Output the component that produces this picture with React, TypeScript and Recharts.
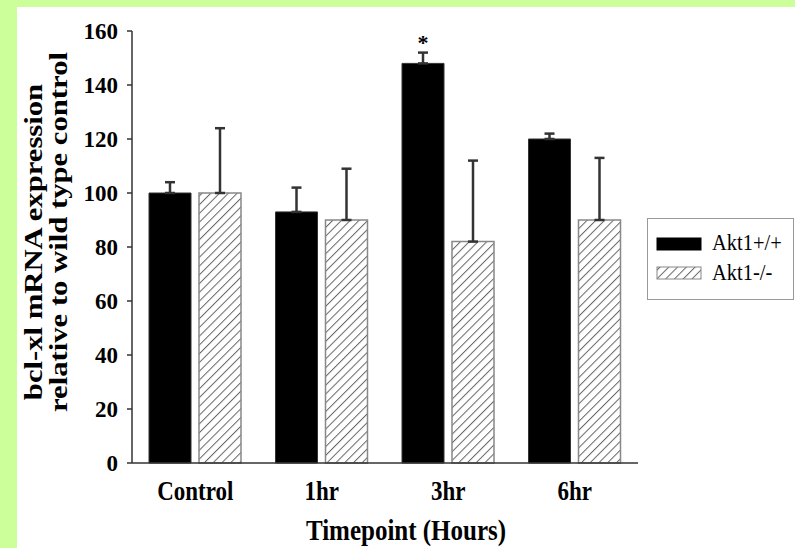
import React from "react";
import { BarChart, Bar, XAxis, YAxis, ErrorBar, LabelList, Legend } from "recharts";

const timepoints = ["Control", "1hr", "3hr", "6hr"];
const wildType = [100, 93, 148, 120];
const wildTypeErr = [4, 9, 4, 2];
const knockout = [100, 90, 82, 90];
const knockoutErr = [24, 19, 30, 23];
const significance = ["", "", "*", ""];
const yTicks = [0, 20, 40, 60, 80, 100, 120, 140, 160];

// errors only go upward: [below, above]
const data = timepoints.map((t, i) => ({
  name: t,
  wt: wildType[i],
  wtErr: [0, wildTypeErr[i]],
  ko: knockout[i],
  koErr: [0, knockoutErr[i]],
  sig: significance[i],
}));

const SERIF = '"Liberation Serif", "Times New Roman", serif';
const AXIS = "#333";

const HatchPattern = ({ id }: { id: string }) => (
  <pattern id={id} patternUnits="userSpaceOnUse" width={6.2} height={6.2} patternTransform="rotate(45)">
    <rect width={6.2} height={6.2} fill="#fff" />
    <line x1={0} y1={0} x2={0} y2={6.2} stroke="#666" strokeWidth={2} />
  </pattern>
);

const CategoryTick = (props: any) => {
  const { x, y, payload } = props;
  return (
    <text
      transform={`translate(${x},${y + 37}) scale(1,1.15)`}
      textAnchor="middle"
      fontFamily={SERIF}
      fontWeight="bold"
      fontSize={23}
      fill="#000"
    >
      {payload.value}
    </text>
  );
};

const XTitle = () => (
  <text
    transform="translate(406,540) scale(1,1.21)"
    textAnchor="middle"
    fontFamily={SERIF}
    fontWeight="bold"
    fontSize={25}
    fill="#000"
  >
    Timepoint (Hours)
  </text>
);

const YTitle = () => (
  <g fontFamily={SERIF} fontWeight="bold" fontSize={26} fill="#000">
    <text transform="translate(42,242) rotate(-90) scale(1.18,1)" textAnchor="middle">
      bcl-xl mRNA expression
    </text>
    <text transform="translate(67,232) rotate(-90) scale(1.18,1)" textAnchor="middle">
      relative to wild type control
    </text>
  </g>
);

const Star = (props: any) => {
  const { x, y, width, value } = props;
  if (!value) return null;
  return (
    <text x={x + width / 2} y={y - 13} textAnchor="middle" fontFamily={SERIF} fontWeight="bold" fontSize={22} fill="#000">
      {value}
    </text>
  );
};

const LegendBox = (props: any) => {
  const items = props.payload || [];
  return (
    <svg width={147} height={82} style={{ display: "block" }}>
      <defs>
        <HatchPattern id="hatchLegend" />
      </defs>
      <rect x={0.5} y={0.5} width={146} height={81} fill="#fff" stroke="#999" />
      {items.map((it: any, i: number) => (
        <g key={it.value}>
          <rect
            x={10}
            y={20 + i * 29}
            width={44}
            height={12}
            fill={it.dataKey === "wt" ? "#000" : "url(#hatchLegend)"}
            stroke={it.dataKey === "wt" ? "#000" : "#888"}
            strokeWidth={1}
          />
          <text
            transform={`translate(65,${32 + i * 30}) scale(1,1.1)`}
            fontFamily={SERIF}
            fontSize={20.5}
            fill="#000"
          >
            {it.value}
          </text>
        </g>
      ))}
    </svg>
  );
};

export default function App() {
  return (
    <div style={{ position: "absolute", left: 0, top: 0, width: 795, height: 548, background: "#ccff99" }}>
      <div style={{ position: "absolute", left: 17, top: 7, right: 0, bottom: 0, background: "#fff" }} />
      <div style={{ position: "absolute", left: 0, top: 0 }}>
        <BarChart
          width={795}
          height={548}
          data={data}
          margin={{ top: 31, right: 157, bottom: 5, left: 32 }}
          barSize={42}
          barGap={8}
        >
          <defs>
            <HatchPattern id="hatchBar" />
          </defs>
          <XAxis
            dataKey="name"
            height={80}
            axisLine={{ stroke: AXIS, strokeWidth: 1.5 }}
            tickLine={false}
            tickSize={0}
            tickMargin={0}
            tick={<CategoryTick />}
            interval={0}
            label={<XTitle />}
          />
          <YAxis
            width={100}
            domain={[0, 160]}
            ticks={yTicks}
            interval={0}
            axisLine={{ stroke: AXIS, strokeWidth: 1.5 }}
            tickLine={{ stroke: AXIS, strokeWidth: 1.5 }}
            tickSize={5}
            tickMargin={9}
            tick={{ fill: "#000", fontSize: 23, fontWeight: "bold", fontFamily: SERIF }}
            label={<YTitle />}
          />
          <Legend
            layout="horizontal"
            verticalAlign="middle"
            align="center"
            wrapperStyle={{ left: 647, top: 218, width: 147, height: 82 }}
            content={<LegendBox />}
          />
          <Bar dataKey="wt" name="Akt1+/+" fill="#000" stroke="#333" strokeWidth={1} isAnimationActive={false}>
            <ErrorBar dataKey="wtErr" direction="y" width={5} stroke={AXIS} strokeWidth={2.5} />
            <LabelList dataKey="sig" content={<Star />} />
          </Bar>
          <Bar dataKey="ko" name="Akt1-/-" fill="url(#hatchBar)" stroke="#888" strokeWidth={1.5} isAnimationActive={false}>
            <ErrorBar dataKey="koErr" direction="y" width={5} stroke={AXIS} strokeWidth={2.5} />
          </Bar>
        </BarChart>
      </div>
    </div>
  );
}
